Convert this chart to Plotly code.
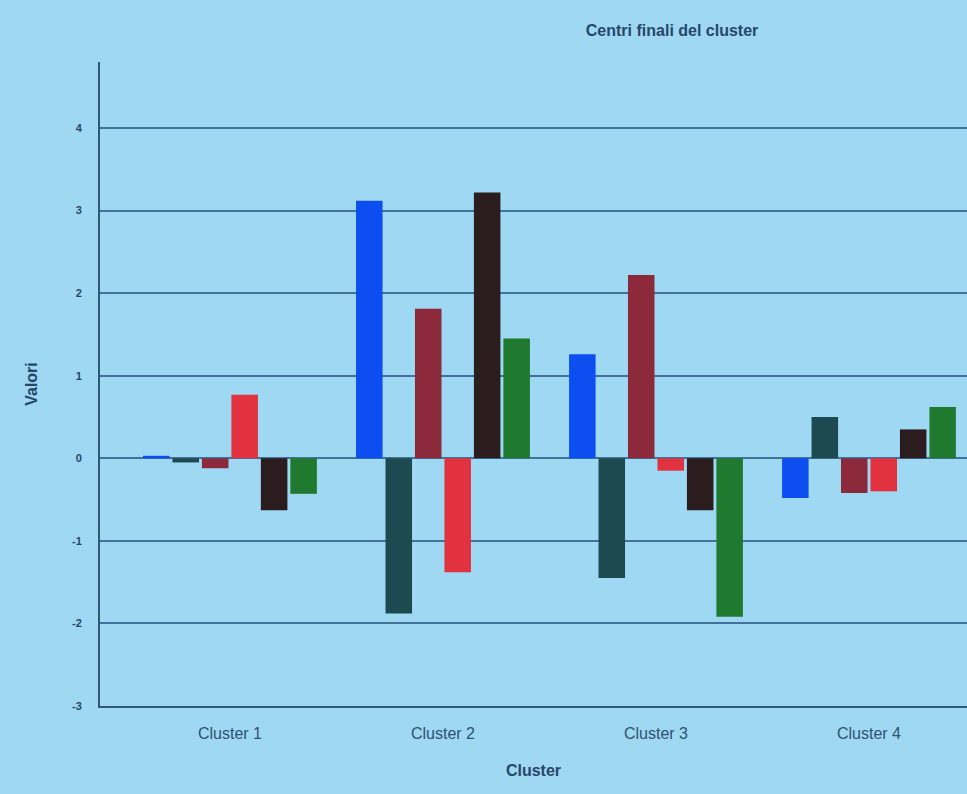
import plotly.graph_objects as go

categories = ["Cluster 1", "Cluster 2", "Cluster 3", "Cluster 4"]
series_names = ["Variabile 1", "Variabile 2", "Variabile 3", "Variabile 4", "Variabile 5", "Variabile 6"]
series_colors = ["#0c4ef0", "#1d4a50", "#8c2a3c", "#e3323f", "#2b1c1e", "#1f7a2f"]
var1 = [0.03, 3.12, 1.26, -0.48]
var2 = [-0.05, -1.88, -1.45, 0.50]
var3 = [-0.12, 1.81, 2.22, -0.42]
var4 = [0.77, -1.38, -0.15, -0.40]
var5 = [-0.63, 3.22, -0.63, 0.35]
var6 = [-0.43, 1.45, -1.92, 0.62]
series_values = [var1, var2, var3, var4, var5, var6]
y_ticks = [-3, -2, -1, 0, 1, 2, 3, 4]
y_tick_labels = ["-3", "-2", "-1", "0", "1", "2", "3", "4"]

fig = go.Figure()
for name, color, vals in zip(series_names, series_colors, series_values):
    fig.add_trace(go.Bar(x=categories, y=vals, name=name, marker_color=color,
                         marker_line_width=0))

text_color = "#27476a"
bg = "#9ed8f2"
fig.update_layout(
    width=967, height=794,
    paper_bgcolor=bg, plot_bgcolor=bg,
    barmode="group", bargap=0.17, bargroupgap=0.1,
    showlegend=False,
    margin=dict(l=100, r=0, t=62, b=88),
    title=dict(text="<b>Centri finali del cluster</b>", x=0.695, xanchor="center",
               y=0.962, yanchor="middle",
               font=dict(family="Liberation Sans, Arial", size=16, color=text_color)),
    font=dict(family="Liberation Sans, Arial", color=text_color),
    xaxis=dict(range=[-0.61, 3.46], showgrid=False, showline=True, linecolor="#2f5878",
               linewidth=2, ticks="", ticklabelstandoff=12,
               tickfont=dict(size=16, color="#2e5273"),
               title=dict(text="<b>Cluster</b>", font=dict(size=16, color=text_color), standoff=24)),
    yaxis=dict(range=[-3, 4.8], tickvals=y_ticks, ticktext=y_tick_labels,
               showgrid=True, gridcolor="#41729a",
               gridwidth=1.5, zeroline=True, zerolinecolor="#41729a", zerolinewidth=1.5,
               showline=True, linecolor="#2f5878", linewidth=2, ticks="",
               ticklabelstandoff=14,
               tickfont=dict(size=11, color=text_color, weight="bold"),
               title=dict(text="<b>Valori</b>", font=dict(size=16, color=text_color), standoff=30)),
)
fig.write_html("out.html", config={"displayModeBar": False},
               post_script="document.body.style.margin='0';document.body.style.padding='0';")
